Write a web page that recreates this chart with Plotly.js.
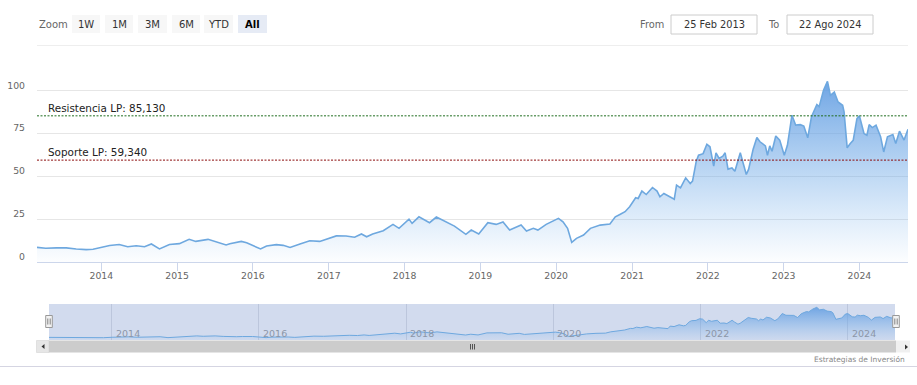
<!DOCTYPE html>
<html>
<head>
<meta charset="utf-8">
<script src="https://cdn.plot.ly/plotly-3.0.1.min.js"></script>
<style>html,body{margin:0;padding:0;background:#fff;}#chart{width:917px;height:385px;}</style>
</head>
<body>
<div id="chart"></div>
<script>
// ---------------- DATA ----------------
const dates = [
"2013-02-25","2013-04-08","2013-05-30","2013-07-16","2013-09-02","2013-10-20","2013-11-22",
"2014-01-08","2014-02-10","2014-03-28","2014-05-08","2014-06-18","2014-07-28","2014-08-30","2014-10-08","2014-11-25",
"2015-01-12","2015-02-28","2015-04-01","2015-05-30","2015-07-09","2015-08-25","2015-09-12","2015-10-12","2015-11-06","2015-12-02",
"2016-01-01","2016-02-07","2016-03-07","2016-04-23","2016-05-26","2016-06-28","2016-08-15","2016-10-01","2016-11-18","2016-12-28",
"2017-02-06","2017-03-25","2017-05-05","2017-06-07","2017-07-02","2017-07-31","2017-09-20","2017-11-06","2017-12-05",
"2018-01-22","2018-02-06","2018-03-11","2018-04-09","2018-05-01","2018-06-03","2018-07-13","2018-08-29","2018-10-23","2018-11-18","2018-12-24",
"2019-02-06","2019-03-18","2019-04-20","2019-05-22","2019-07-16","2019-08-11","2019-09-13","2019-10-05","2019-11-14",
"2020-01-12","2020-02-03","2020-02-25","2020-03-16","2020-04-08","2020-05-12","2020-06-14","2020-07-31","2020-09-16","2020-10-12","2020-11-03","2020-11-28","2020-12-20",
"2021-01-18","2021-01-30","2021-02-17","2021-03-10","2021-04-09","2021-05-01","2021-05-15","2021-06-03","2021-06-28","2021-07-23","2021-08-03","2021-08-22","2021-09-16","2021-10-08","2021-10-19","2021-11-06","2021-11-17","2021-12-09","2021-12-27",
"2022-01-11","2022-01-29","2022-02-09","2022-02-24","2022-03-14","2022-03-25","2022-04-08","2022-04-27","2022-05-11","2022-06-06","2022-06-17","2022-07-05","2022-07-16","2022-08-07","2022-08-25","2022-09-09","2022-10-05","2022-10-15","2022-10-26","2022-11-06","2022-11-24","2022-12-13",
"2023-01-04","2023-01-19","2023-02-10","2023-02-28","2023-03-22","2023-04-08","2023-04-27","2023-05-15","2023-06-10","2023-06-21","2023-07-12","2023-07-31","2023-08-14","2023-09-02","2023-09-20","2023-10-12","2023-10-19","2023-11-03","2023-11-18","2023-12-02","2023-12-20",
"2024-01-01","2024-01-23","2024-02-06","2024-02-17","2024-03-03","2024-03-21","2024-04-12","2024-04-27","2024-05-15","2024-06-10","2024-06-24","2024-07-12","2024-08-03","2024-08-22"
];
const prices = [
8.5,8.0,8.2,8.2,7.6,7.2,7.4,
8.9,9.6,10.2,8.9,9.5,8.9,10.5,7.6,10.2,
10.7,13.2,12.0,13.2,11.6,9.9,10.6,11.2,12.0,11.2,
9.7,7.6,9.3,10.1,9.7,8.5,10.5,12.4,12.0,13.7,
15.2,15.1,14.4,16.3,14.7,16.3,18.2,21.9,19.6,
25.0,22.5,26.3,24.4,22.9,26.2,23.8,20.9,16.1,18.6,16.3,
22.9,21.9,23.3,18.6,21.5,18.0,19.6,18.6,21.9,
25.4,23.4,19.6,11.4,13.8,15.7,19.6,21.5,22.1,26.3,27.7,29.3,32.2,
37.4,37.0,41.3,39.3,43.4,41.3,38.0,39.9,38.0,36.6,44.8,43.2,49.0,45.7,47.1,58.7,62.2,63.1,68.6,
67.1,55.8,63.6,60.3,61.6,63.6,54.1,54.8,52.9,63.6,58.3,51.0,53.9,65.7,72.5,70.0,67.6,62.2,67.6,64.5,73.4,71.0,
62.2,68.0,85.5,79.7,80.0,79.2,72.3,84.6,91.7,90.5,100.0,105.2,97.1,99.0,93.2,91.3,87.4,66.5,69.0,70.9,83.5,
85.1,74.8,73.8,80.0,78.3,79.7,72.9,64.1,72.9,74.2,69.0,76.2,71.0,77.3
];
const resistanceValue = 85.13;
const supportValue = 59.34;
const resistanceName = "Resistencia LP";
const supportName = "Soporte LP";
const xTickYears = ["2014","2015","2016","2017","2018","2019","2020","2021","2022","2023","2024"];
const navTickYears = ["2014","2016","2018","2020","2022","2024"];
const yTicks = [0,25,50,75,100];
const zoomButtons = ["1W","1M","3M","6M","YTD","All"];
const selectedButton = "All";
const fromLabel = "25 Feb 2013";
const toLabel = "22 Ago 2024";
const creditText = "Estrategias de Inversión";

// ---------------- HELPERS ----------------
const W = 917, H = 385;
const px = x => x / W;
const py = y => 1 - y / H;
const FONT = "DejaVu Sans, Verdana, sans-serif";
const fmt = v => v.toFixed(3).replace('.', ',');
const startDate = dates[0], endDate = dates[dates.length - 1];

const shapes = [];
const annotations = [];

function rectPx(x0, y0, x1, y1, fill, line, lw, layer) {
  shapes.push({type:'rect', xref:'paper', yref:'paper', x0:px(x0), x1:px(x1), y0:py(y1), y1:py(y0),
    fillcolor: fill, line:{color: line || 'rgba(0,0,0,0)', width: lw || 0}, layer: layer || 'above'});
}
function linePx(x0, y0, x1, y1, color, w, layer) {
  shapes.push({type:'line', xref:'paper', yref:'paper', x0:px(x0), x1:px(x1), y0:py(y0), y1:py(y1),
    line:{color: color, width: w || 1}, layer: layer || 'above'});
}
function textPx(x, y, text, size, color, anchor, bold) {
  annotations.push({xref:'paper', yref:'paper', x:px(x), y:py(y), text: bold ? '<b>'+text+'</b>' : text,
    showarrow:false, xanchor: anchor || 'left', yanchor:'middle',
    font:{family: FONT, size: size, color: color}});
}

// top toolbar
textPx(37, 24, "Zoom", 10, '#666', 'left');
const btnX = [[72,100],[105,133],[138,167],[172,200],[204,233],[238,267]];
zoomButtons.forEach((b, i) => {
  const sel = b === selectedButton;
  rectPx(btnX[i][0], 15, btnX[i][1], 33, sel ? '#e6ebf5' : '#f7f7f7');
  textPx((btnX[i][0] + btnX[i][1]) / 2, 24, b, 10, sel ? '#000' : '#333', 'center', sel);
});
textPx(638, 24, "From", 9.8, '#666', 'left');
rectPx(671, 15, 757, 34, '#fff', '#cccccc', 1);
textPx(714, 24.5, fromLabel, 9.8, '#333', 'center');
textPx(766, 24, "To", 9.8, '#666', 'left');
rectPx(787, 15, 873, 34, '#fff', '#cccccc', 1);
textPx(830, 24.5, toLabel, 9.8, '#333', 'center');
linePx(37, 45.5, 908, 45.5, '#eeeeee', 1);

// resistance / support
shapes.push({type:'line', xref:'paper', yref:'y', x0:px(37), x1:px(908), y0:resistanceValue, y1:resistanceValue,
  line:{color:'#1f6e1f', width:1, dash:'2px,1.5px'}});
shapes.push({type:'line', xref:'paper', yref:'y', x0:px(37), x1:px(908), y0:supportValue, y1:supportValue,
  line:{color:'#8b0a0a', width:1, dash:'2px,1.5px'}});
annotations.push({xref:'paper', yref:'y', x:px(46), y:resistanceValue, yanchor:'bottom', xanchor:'left', yshift:0,
  text: resistanceName + ': ' + fmt(resistanceValue), showarrow:false, font:{family:FONT, size:10.4, color:'#222'}});
annotations.push({xref:'paper', yref:'y', x:px(46), y:supportValue, yanchor:'bottom', xanchor:'left', yshift:0,
  text: supportName + ': ' + fmt(supportValue), showarrow:false, font:{family:FONT, size:10.4, color:'#222'}});

// navigator background (mask)
rectPx(49, 304, 895, 340, '#d2dbee', null, 0, 'below');
// navigator year labels
navTickYears.forEach(y => {
  annotations.push({xref:'x2', yref:'paper', x: y + '-01-01', y: py(333), xanchor:'left', yanchor:'middle', xshift:2,
    text: y, showarrow:false, font:{family:FONT, size:9.5, color:'#8c96a8'}});
});
// handles
[[45.7,52.3],[892.7,899.3]].forEach(h => {
  rectPx(h[0], 315.5, h[1], 327.5, '#f2f2f2', '#999999', 1);
  const c = (h[0] + h[1]) / 2;
  linePx(c - 1.2, 318.5, c - 1.2, 324.5, '#666', 0.8);
  linePx(c + 1.2, 318.5, c + 1.2, 324.5, '#666', 0.8);
});
// scrollbar
rectPx(36.5, 340.5, 49, 352.5, '#e6e6e6', '#cccccc', 0.5);
rectPx(49, 340.5, 896, 352.5, '#cccccc');
rectPx(896, 340.5, 910, 352.5, '#f0f0f0');
shapes.push({type:'path', xref:'paper', yref:'paper',
  path:`M ${px(44.5)} ${py(344)} L ${px(41.5)} ${py(346.5)} L ${px(44.5)} ${py(349)} Z`, fillcolor:'#333', line:{width:0}});
shapes.push({type:'path', xref:'paper', yref:'paper',
  path:`M ${px(905)} ${py(344.5)} L ${px(908)} ${py(347)} L ${px(905)} ${py(349.5)} Z`, fillcolor:'#333', line:{width:0}});
[470.5, 472.5, 474.5].forEach(x => linePx(x, 344, x, 349.5, '#333', 0.8));

// bottom separator and credit
linePx(0, 366.5, 917, 366.5, '#d5d5e2', 1);
textPx(907, 359, creditText, 7.5, '#888', 'right');

// ---------------- TRACES ----------------
const mainTrace = {
  x: dates, y: prices, type:'scatter', mode:'lines', xaxis:'x', yaxis:'y',
  line:{color:'#6ea8df', width:1.6},
  fill:'tozeroy',
  fillgradient:{type:'vertical', colorscale:[[0,'rgba(124,181,236,0.02)'],[1,'rgba(95,155,225,0.9)']]},
  hoverinfo:'skip'
};
const navTrace = {
  x: dates, y: prices, type:'scatter', mode:'lines', xaxis:'x2', yaxis:'y2',
  line:{color:'#6ea8df', width:1},
  fill:'tozeroy',
  fillgradient:{type:'vertical', colorscale:[[0,'rgba(124,181,236,0.05)'],[1,'rgba(95,155,225,0.85)']]},
  hoverinfo:'skip'
};

const layout = {
  width: W, height: H,
  margin:{l:0, r:0, t:0, b:0, pad:0},
  paper_bgcolor:'#ffffff', plot_bgcolor:'#ffffff',
  showlegend:false,
  xaxis:{
    type:'date', domain:[px(37), px(908)], range:[startDate, endDate], anchor:'y',
    showline:true, linecolor:'#ccd6eb', linewidth:1,
    ticks:'outside', ticklen:8, tickcolor:'#ccd6eb', tickwidth:1, ticklabelstandoff:-3,
    tickvals: xTickYears.map(y => y + '-01-01'), ticktext: xTickYears,
    tickfont:{family:FONT, size:9.3, color:'#666'},
    showgrid:false, zeroline:false, fixedrange:true
  },
  yaxis:{
    domain:[py(262), py(80)], range:[0, 106], anchor:'x',
    tickvals: yTicks, ticktext: yTicks.map(String),
    gridcolor:'#e6e6e6', gridwidth:1, zeroline:false, showline:false,
    ticks:'', ticklabelstandoff: 11, ticklabelshift: -5,
    tickfont:{family:FONT, size:9.3, color:'#666'}, fixedrange:true
  },
  xaxis2:{
    type:'date', domain:[px(49), px(895)], range:[startDate, endDate], anchor:'y2',
    tickvals: navTickYears.map(y => y + '-01-01'), showticklabels:false, ticks:'',
    showgrid:true, gridcolor:'#bcc6dc', gridwidth:1, showline:false, zeroline:false, fixedrange:true
  },
  yaxis2:{
    domain:[py(340), py(304)], range:[0, 116], anchor:'x2',
    showgrid:false, showticklabels:false, ticks:'', zeroline:false, showline:false, fixedrange:true
  },
  shapes: shapes,
  annotations: annotations
};

Plotly.newPlot('chart', [navTrace, mainTrace], layout, {displayModeBar:false, staticPlot:true});
</script>
</body>
</html>
